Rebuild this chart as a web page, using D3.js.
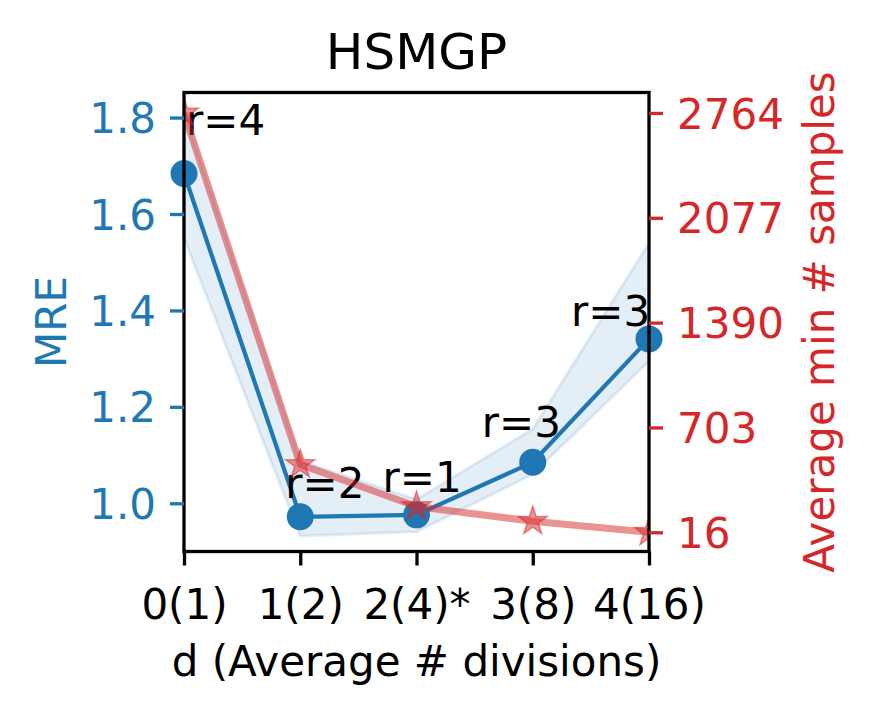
<!DOCTYPE html>
<html><head><meta charset="utf-8">
<script src="https://cdn.jsdelivr.net/npm/d3@7"></script>
<style>body{margin:0;background:#fff}svg{display:block}text{font-family:"DejaVu Sans",sans-serif}</style>
</head><body>
<svg id="c" width="873" height="714"></svg>
<script>
const categories = ["0(1)", "1(2)", "2(4)*", "3(8)", "4(16)"];
const xValues = [0, 1, 2, 3, 4];
const mre = [1.684, 0.972, 0.976, 1.085, 1.341];
const mreUpper = [1.814, 1.088, 1.008, 1.154, 1.54];
const mreLower = [1.55, 0.932, 0.941, 1.06, 1.295];
const samples = [2764, 460, 185, 88, 16];
const rLabels = ["r=4", "r=2", "r=1", "r=3", "r=3"];
const leftTicks = [1.0, 1.2, 1.4, 1.6, 1.8];
const rightTicks = [16, 703, 1390, 2077, 2764];

// layout (pixel offsets for the annotations)
const labelDx = [2, -15, -34, -51, -78];
const labelDy = [-39, -19, -23, -25, -13];

const blue = "#1f77b4", red = "#d62728";
const L = 184, R = 649, T = 92.5, B = 551.5;
const svg = d3.select("#c");
const x = d3.scaleLinear().domain([0, 4]).range([L, R]);
const yL = d3.scaleLinear().domain([0.9, 1.852]).range([B, T]);
const yR = d3.scaleLinear().domain([-110, 2898]).range([B, T]);
const FS = 42;

svg.append("clipPath").attr("id", "clip").append("rect")
  .attr("x", L).attr("y", T).attr("width", R - L).attr("height", B - T);

const plot = svg.append("g");
// band
const area = d3.area().x((d, i) => x(xValues[i])).y0((d, i) => yL(mreLower[i])).y1((d, i) => yL(mreUpper[i]));
plot.append("path").datum(mre).attr("d", area)
  .attr("fill", blue).attr("fill-opacity", 0.12)
  .attr("stroke", blue).attr("stroke-opacity", 0.12).attr("stroke-width", 3);
// blue line
const lineL = d3.line().x((d, i) => x(xValues[i])).y(d => yL(d));
plot.append("path").datum(mre).attr("d", lineL).attr("fill", "none")
  .attr("stroke", blue).attr("stroke-width", 4.2);
plot.selectAll("circle.m").data(mre).join("circle")
  .attr("cx", (d, i) => x(xValues[i])).attr("cy", d => yL(d)).attr("r", 13.5).attr("fill", blue);
// annotations
plot.selectAll("text.ann").data(rLabels).join("text")
  .attr("x", (d, i) => x(xValues[i]) + labelDx[i])
  .attr("y", (d, i) => yL(mre[i]) + labelDy[i])
  .attr("font-size", FS).attr("fill", "#000").text(d => d);

// red line (twin axis, drawn on top)
const lineR = d3.line().x((d, i) => x(xValues[i])).y(d => yR(d));
const rg = svg.append("g").attr("clip-path", "url(#clip)");
rg.append("path").datum(samples).attr("d", lineR).attr("fill", "none")
  .attr("stroke", red).attr("stroke-opacity", 0.5).attr("stroke-width", 7)
  .attr("stroke-linejoin", "round");
const star = d3.symbol().type(d3.symbolStar).size(260);
rg.selectAll("path.s").data(samples).join("path")
  .attr("transform", (d, i) => `translate(${x(xValues[i])},${yR(d)})`)
  .attr("d", star).attr("fill", red).attr("fill-opacity", 0.5)
  .attr("stroke", red).attr("stroke-opacity", 0.5).attr("stroke-width", 1.5);

// frame
svg.append("rect").attr("x", L).attr("y", T).attr("width", R - L).attr("height", B - T)
  .attr("fill", "none").attr("stroke", "#000").attr("stroke-width", 3.3);

// x axis
const xAxis = d3.axisBottom(x).tickValues(xValues).tickFormat((d, i) => categories[i])
  .tickSize(14).tickPadding(14);
const gx = svg.append("g").attr("transform", `translate(0,${B})`).call(xAxis);
gx.select(".domain").remove();
gx.selectAll("line").attr("stroke", "#000").attr("stroke-width", 3.3);
gx.selectAll("text").attr("font-size", FS).attr("fill", "#000").attr("dy", null).attr("y", 67);

// left axis
const yAxisL = d3.axisLeft(yL).tickValues(leftTicks).tickFormat(d3.format(".1f")).tickSize(14).tickPadding(14);
const gl = svg.append("g").attr("transform", `translate(${L},0)`).call(yAxisL);
gl.select(".domain").remove();
gl.selectAll("line").attr("stroke", blue).attr("stroke-width", 3.3);
gl.selectAll("text").attr("font-size", FS).attr("fill", blue).attr("dy", "0.36em");

// right axis
const yAxisR = d3.axisRight(yR).tickValues(rightTicks).tickFormat(d3.format("d")).tickSize(14).tickPadding(14);
const gr = svg.append("g").attr("transform", `translate(${R},0)`).call(yAxisR);
gr.select(".domain").remove();
gr.selectAll("line").attr("stroke", red).attr("stroke-width", 3.3);
gr.selectAll("text").attr("font-size", FS).attr("fill", red).attr("dy", "0.36em");

// titles
svg.append("text").attr("x", (L + R) / 2).attr("y", 69).attr("text-anchor", "middle")
  .attr("font-size", 50).attr("fill", "#000").text("HSMGP");
svg.append("text").attr("x", (L + R) / 2).attr("y", 676).attr("text-anchor", "middle")
  .attr("font-size", FS).attr("fill", "#000").text("d (Average # divisions)");
svg.append("text").attr("transform", `translate(66,${(T + B) / 2}) rotate(-90)`).attr("text-anchor", "middle")
  .attr("font-size", FS).attr("fill", blue).text("MRE");
svg.append("text").attr("transform", `translate(834,${(T + B) / 2}) rotate(-90)`).attr("text-anchor", "middle")
  .attr("font-size", FS).attr("fill", red).text("Average min # samples");
</script>
</body></html>
